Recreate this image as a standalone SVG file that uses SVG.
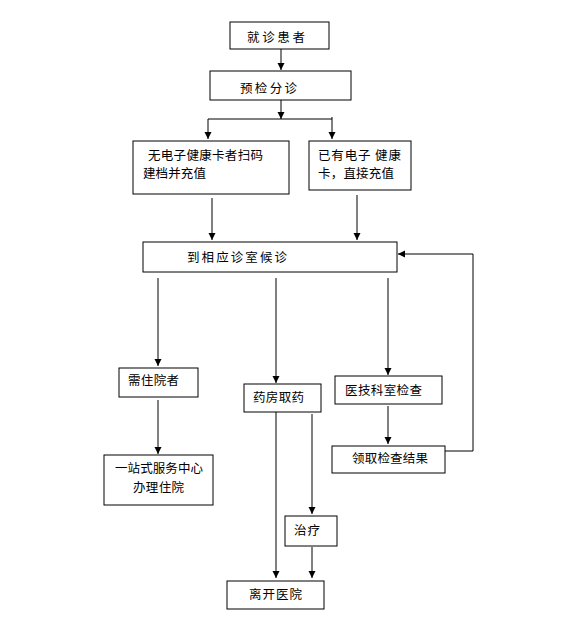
<svg xmlns="http://www.w3.org/2000/svg" width="565" height="630" viewBox="0 0 565 630">
<style>
.box{fill:#fff;stroke:#000;stroke-width:1}
text{font-family:"Noto Sans CJK SC","Noto Sans",sans-serif;font-size:12.5px;fill:#000}
#connectors path,#connectors line{fill:none;stroke:#000;stroke-width:1}
</style>
<defs>
<marker id="ah" markerUnits="userSpaceOnUse" markerWidth="8" markerHeight="8" refX="7" refY="3.5" orient="auto">
<path d="M0,0 L7,3.5 L0,7 z" fill="#000"/>
</marker>
</defs>
<rect width="565" height="630" fill="#fff"/>
<g id="connectors">
<line x1="281" y1="49" x2="281" y2="70" marker-end="url(#ah)"/>
<line x1="281" y1="100" x2="281" y2="119" marker-end="url(#ah)"/>
<line x1="208" y1="119" x2="332" y2="119"/>
<line x1="208" y1="119" x2="208" y2="139" marker-end="url(#ah)"/>
<line x1="332" y1="117" x2="332" y2="139" marker-end="url(#ah)"/>
<line x1="212" y1="198" x2="212" y2="240" marker-end="url(#ah)"/>
<line x1="357" y1="195" x2="357" y2="240" marker-end="url(#ah)"/>
<path d="M445,451 H473 V254 H398" marker-end="url(#ah)"/>
<line x1="158" y1="278" x2="158" y2="366" marker-end="url(#ah)"/>
<line x1="276" y1="278" x2="276" y2="383" marker-end="url(#ah)"/>
<line x1="388" y1="278" x2="388" y2="375" marker-end="url(#ah)"/>
<line x1="158" y1="400" x2="158" y2="454" marker-end="url(#ah)"/>
<line x1="276" y1="412" x2="276" y2="578" marker-end="url(#ah)"/>
<line x1="312" y1="414" x2="312" y2="514" marker-end="url(#ah)"/>
<line x1="312" y1="547" x2="312" y2="578" marker-end="url(#ah)"/>
<line x1="388" y1="406" x2="388" y2="444" marker-end="url(#ah)"/>
</g>
<g id="n1"><rect class="box" x="230" y="22" width="99" height="27"/><text x="247" y="42" textLength="58" lengthAdjust="spacing">就诊患者</text></g>
<g id="n2"><rect class="box" x="210" y="71" width="141" height="29"/><text x="240" y="93" textLength="57" lengthAdjust="spacing">预检分诊</text></g>
<g id="n3"><rect class="box" x="133" y="141" width="156" height="53"/><text x="148" y="160" textLength="115" lengthAdjust="spacing">无电子健康卡者扫码</text><text x="143" y="178" textLength="63" lengthAdjust="spacing">建档并充值</text></g>
<g id="n4"><rect class="box" x="309" y="141" width="102" height="49"/><text x="318" y="160" textLength="83" lengthAdjust="spacing">已有电子 健康</text><text x="318" y="178" textLength="76" lengthAdjust="spacing">卡，直接充值</text></g>
<g id="n5"><rect class="box" x="143" y="242" width="254" height="30"/><text x="187" y="262" textLength="100" lengthAdjust="spacing">到相应诊室候诊</text></g>
<g id="n6"><rect class="box" x="119" y="368" width="79" height="29"/><text x="128" y="385" textLength="51" lengthAdjust="spacing">需住院者</text></g>
<g id="n7"><rect class="box" x="244" y="384" width="77" height="28"/><text x="253" y="402" textLength="51" lengthAdjust="spacing">药房取药</text></g>
<g id="n8"><rect class="box" x="335" y="376" width="107" height="28"/><text x="345" y="395" textLength="77" lengthAdjust="spacing">医技科室检查</text></g>
<g id="n9"><rect class="box" x="104" y="455" width="109" height="50"/><text x="115" y="473" textLength="88" lengthAdjust="spacing">一站式服务中心</text><text x="133" y="492" textLength="51" lengthAdjust="spacing">办理住院</text></g>
<g id="n10"><rect class="box" x="332" y="446" width="113" height="27"/><text x="352" y="463" textLength="76" lengthAdjust="spacing">领取检查结果</text></g>
<g id="n11"><rect class="box" x="285" y="516" width="52" height="30"/><text x="294" y="535" textLength="26" lengthAdjust="spacing">治疗</text></g>
<g id="n12"><rect class="box" x="227" y="581" width="97" height="28"/><text x="249" y="599" textLength="53" lengthAdjust="spacing">离开医院</text></g>
</svg>
